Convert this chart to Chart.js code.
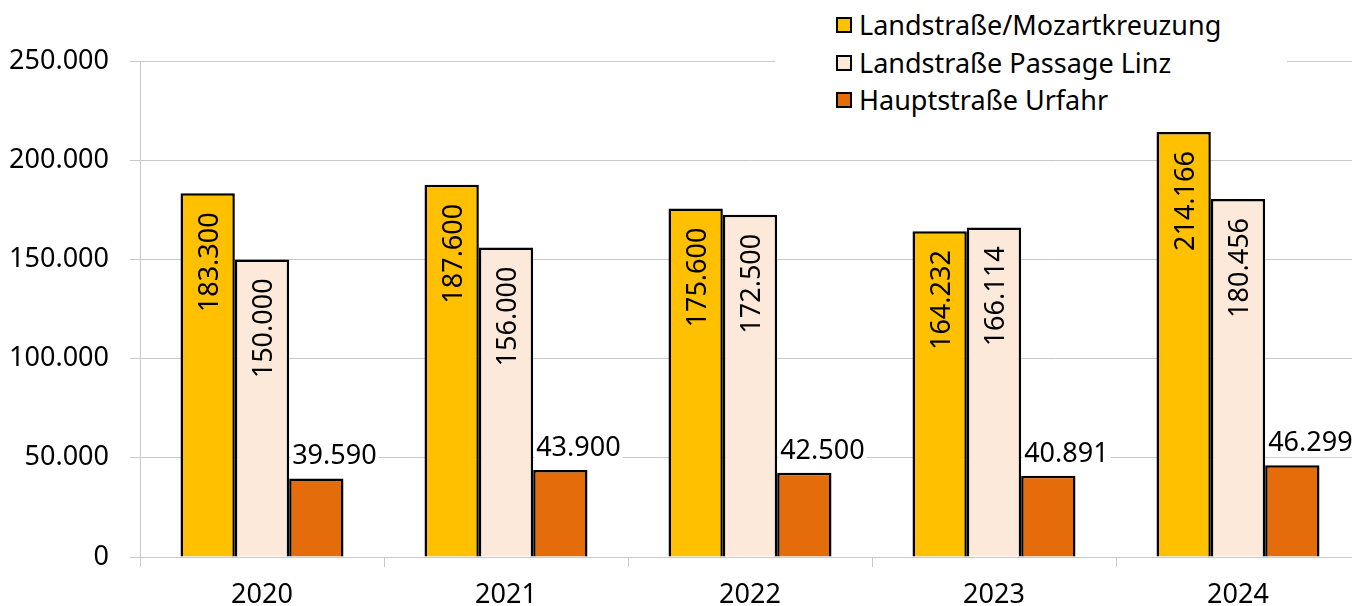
<!DOCTYPE html>
<html>
<head>
<meta charset="utf-8">
<script src="https://cdn.jsdelivr.net/npm/chart.js@4/dist/chart.umd.min.js"></script>
<style>
  html, body { margin: 0; padding: 0; background: #fff; overflow: hidden; }
  #wrap { position: relative; width: 1352px; height: 606px; overflow: hidden; }
  #chart { position: absolute; left: 0; top: 0; }
  #legend { position: absolute; left: 775px; top: 0; width: 512px; height: 118px; background: #fff; }
  .item { position: absolute; left: 84px; height: 36px; line-height: 36px; font: 27px "Noto Sans", sans-serif; color: #000; white-space: nowrap; }
  .swatch { position: absolute; left: -23px; top: 11px; width: 16px; height: 16px; box-sizing: border-box; border: 2.5px solid #000; }
</style>
</head>
<body>
<div id="wrap">
  <canvas id="chart" width="1370" height="606"></canvas>
  <div id="legend"></div>
</div>
<script>
// Data
const years = ['2020', '2021', '2022', '2023', '2024'];
const seriesNames = ['Landstraße/Mozartkreuzung', 'Landstraße Passage Linz', 'Hauptstraße Urfahr'];
const mozartkreuzung = [183300, 187600, 175600, 164232, 214166];
const passageLinz = [150000, 156000, 172500, 166114, 180456];
const urfahr = [39590, 43900, 42500, 40891, 46299];
const yMax = 250000;
const yStep = 50000;

const COLORS = ['#FFC000', '#FDE9D9', '#E46C0A'];
const FONT = '"Noto Sans", sans-serif';

// 183300 -> "183.300"
function fmt(n) {
  return String(n).replace(/\B(?=(\d{3})+(?!\d))/g, '.');
}

// Value labels: rotated inside the first two series, horizontal above the third
const valueLabels = {
  id: 'valueLabels',
  afterDatasetsDraw(chart) {
    const ctx = chart.ctx;
    ctx.save();
    ctx.font = '27px ' + FONT;
    ctx.fillStyle = '#000';
    [0, 1].forEach(i => {
      const values = chart.data.datasets[i].data;
      chart.getDatasetMeta(i).data.forEach((bar, j) => {
        ctx.save();
        ctx.translate(bar.x, bar.y + 19);
        ctx.rotate(-Math.PI / 2);
        ctx.textAlign = 'right';
        ctx.textBaseline = 'alphabetic';
        ctx.fillText(fmt(values[j]), 0, 10);
        ctx.restore();
      });
    });
    const values = chart.data.datasets[2].data;
    chart.getDatasetMeta(2).data.forEach((bar, j) => {
      const text = fmt(values[j]);
      const left = bar.x - bar.width / 2 + 3;
      const base = bar.y - 14;
      const w = ctx.measureText(text).width;
      ctx.fillStyle = '#fff';
      ctx.fillRect(left - 2, base - 26, w + 4, 32);
      ctx.fillStyle = '#000';
      ctx.textAlign = 'left';
      ctx.textBaseline = 'alphabetic';
      ctx.fillText(text, left, base);
    });
    ctx.restore();
  }
};

new Chart(document.getElementById('chart').getContext('2d'), {
  type: 'bar',
  data: {
    labels: years,
    datasets: [mozartkreuzung, passageLinz, urfahr].map((d, i) => ({
      label: seriesNames[i],
      data: d,
      backgroundColor: COLORS[i],
      borderColor: '#000',
      borderWidth: 2.5,
      borderSkipped: 'bottom',
      categoryPercentage: 0.668,
      barPercentage: 1
    }))
  },
  options: {
    responsive: false,
    animation: false,
    layout: { padding: { top: 61, right: 10, left: 0, bottom: 0 } },
    plugins: {
      legend: { display: false },
      tooltip: { enabled: false }
    },
    scales: {
      x: {
        grid: { drawOnChartArea: false, drawTicks: true, tickLength: 10, color: '#C8C8C8' },
        border: { color: '#C8C8C8', width: 1 },
        ticks: { color: '#000', font: { family: FONT, size: 27 }, padding: 12 },
        afterFit(scale) { scale.height = 49; }
      },
      y: {
        min: 0,
        max: yMax,
        grid: { color: '#C8C8C8', tickLength: 10 },
        border: { color: '#C8C8C8', width: 1 },
        ticks: {
          stepSize: yStep,
          color: '#000',
          font: { family: FONT, size: 27 },
          padding: 21,
          callback: v => fmt(v)
        },
        afterFit(scale) { scale.width = 140; }
      }
    }
  },
  plugins: [valueLabels]
});

// Legend drawn over the plot area
const legend = document.getElementById('legend');
seriesNames.forEach((name, i) => {
  const item = document.createElement('div');
  item.className = 'item';
  item.style.top = (6 + i * 37.5) + 'px';
  item.innerHTML = '<span class="swatch" style="background:' + COLORS[i] + '"></span>' + name;
  legend.appendChild(item);
});
</script>
</body>
</html>
